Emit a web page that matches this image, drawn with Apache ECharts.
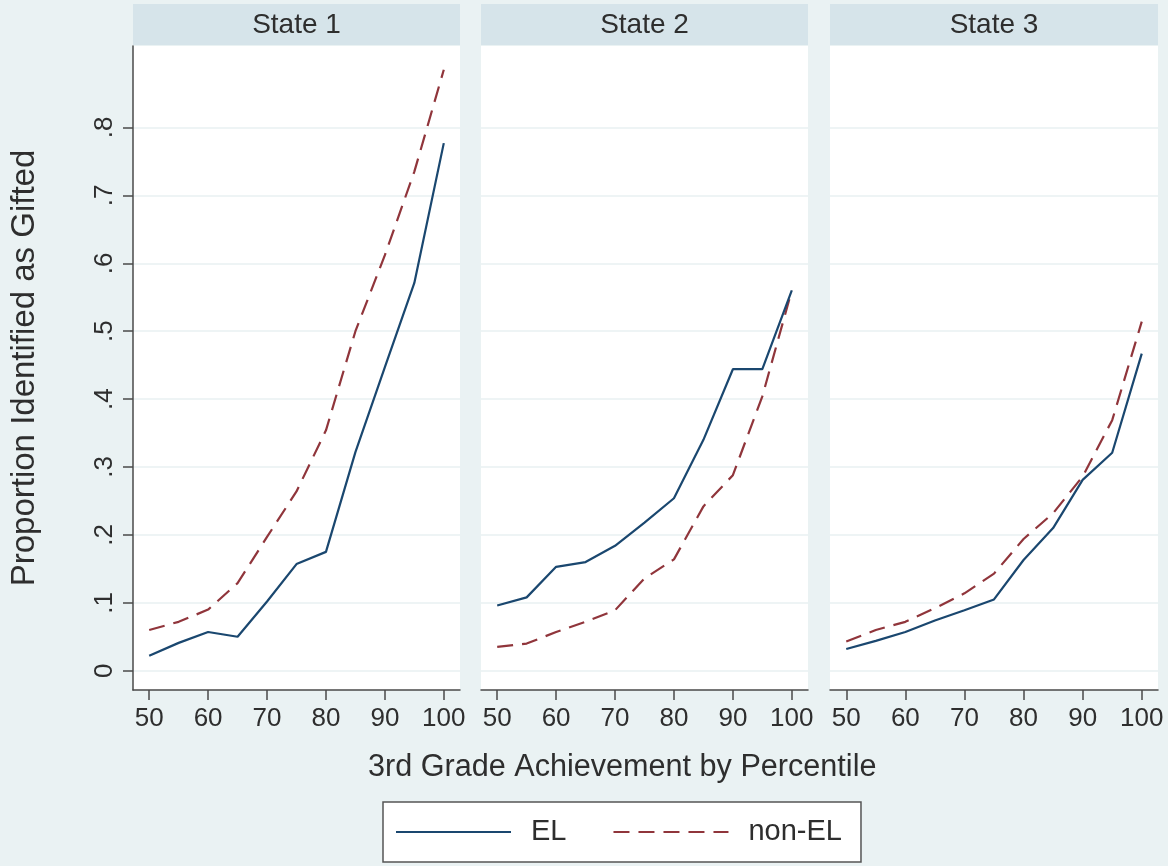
<!DOCTYPE html>
<html>
<head>
<meta charset="utf-8">
<script src="https://cdn.jsdelivr.net/npm/echarts@6/dist/echarts.min.js"></script>
<style>html,body{margin:0;padding:0;}#c{width:1168px;height:866px;}</style>
</head>
<body>
<div id="c"></div>
<script>
const percentiles = [50, 55, 60, 65, 70, 75, 80, 85, 90, 95, 100];
const state1EL    = [0.022, 0.041, 0.057, 0.050, 0.102, 0.157, 0.175, 0.322, 0.447, 0.571, 0.777];
const state1NonEL = [0.060, 0.072, 0.090, 0.129, 0.197, 0.264, 0.354, 0.500, 0.612, 0.735, 0.885];
const state2EL    = [0.096, 0.108, 0.153, 0.160, 0.184, 0.218, 0.254, 0.340, 0.444, 0.444, 0.560];
const state2NonEL = [0.035, 0.040, 0.057, 0.072, 0.089, 0.136, 0.164, 0.242, 0.288, 0.404, 0.560];
const state3EL    = [0.032, 0.044, 0.057, 0.074, 0.089, 0.105, 0.163, 0.210, 0.281, 0.321, 0.467];
const state3NonEL = [0.043, 0.060, 0.072, 0.092, 0.114, 0.143, 0.194, 0.232, 0.286, 0.369, 0.514];
const panelTitles = ['State 1', 'State 2', 'State 3'];
const xTicks = [50, 60, 70, 80, 90, 100];
const yTicks = [0, 0.1, 0.2, 0.3, 0.4, 0.5, 0.6, 0.7, 0.8];
const seriesNames = ['EL', 'non-EL'];

const FONT = '"Liberation Sans", Arial, Helvetica, sans-serif';
const TXT = '#2e2e2e';
const AX = '#4a4a4a';
const BLUE = '#1a476f';
const RED = '#90353b';
const BG = '#EAF2F3';
const HEAD = '#D6E4EA';

const panels = [
  { left: 133, width: 327, el: state1EL, non: state1NonEL },
  { left: 481, width: 327, el: state2EL, non: state2NonEL },
  { left: 830, width: 328, el: state3EL, non: state3NonEL }
];
const TOP = 46, BOTTOM = 690;

const pairs = (ys) => percentiles.map((p, i) => [p, ys[i]]);

const grids = [], xAxes = [], yAxes = [], series = [], graphics = [];
panels.forEach((p, i) => {
  grids.push({ left: p.left, top: TOP, width: p.width, height: BOTTOM - TOP, backgroundColor: '#ffffff', show: true, borderWidth: 0 });
  xAxes.push({
    type: 'value', gridIndex: i, min: 47.25, max: 102.75,
    axisLine: { show: true, onZero: false, lineStyle: { color: AX, width: 1.5 } },
    axisTick: { show: true, length: 10, customValues: xTicks, lineStyle: { color: AX, width: 1.5 } },
    axisLabel: { customValues: xTicks, margin: 16, fontSize: 26, fontFamily: FONT, color: TXT },
    splitLine: { show: false }
  });
  yAxes.push({
    type: 'value', gridIndex: i, min: -0.0284, max: 0.92,
    name: i === 0 ? 'Proportion Identified as Gifted' : '',
    nameLocation: 'middle', nameGap: 92,
    nameTextStyle: { fontSize: 33, fontFamily: FONT, color: TXT },
    axisLine: { show: i === 0, onZero: false, lineStyle: { color: AX, width: 1.5 } },
    axisTick: { show: i === 0, length: 10, customValues: yTicks, lineStyle: { color: AX, width: 1.5 } },
    axisLabel: {
      show: i === 0, customValues: yTicks, rotate: 90, margin: 15, fontSize: 26, fontFamily: FONT, color: TXT,
      formatter: (v) => Math.abs(v) < 1e-9 ? '0' : v.toFixed(1).replace(/^0\./, '.')
    },
    splitLine: { show: true, lineStyle: { color: '#E8F0F2', width: 1.5 } }
  });
  series.push({
    name: seriesNames[0], type: 'line', xAxisIndex: i, yAxisIndex: i, data: pairs(p.el),
    symbol: 'none', lineStyle: { color: BLUE, width: 2.2 }, itemStyle: { color: BLUE }, z: 3
  });
  series.push({
    name: seriesNames[1], type: 'line', xAxisIndex: i, yAxisIndex: i, data: pairs(p.non),
    symbol: 'none', lineStyle: { color: RED, width: 2.2, type: [16, 9] }, itemStyle: { color: RED }, z: 2
  });
  graphics.push({ type: 'rect', shape: { x: p.left, y: 4, width: p.width, height: 41 }, style: { fill: HEAD }, silent: true });
  graphics.push({
    type: 'text', x: p.left + p.width / 2, y: 25,
    style: { text: panelTitles[i], font: '28px ' + FONT, fill: TXT, align: 'center', verticalAlign: 'middle' }, silent: true
  });
});

const chart = echarts.init(document.getElementById('c'), null, { renderer: 'canvas' });
chart.setOption({
  backgroundColor: BG,
  animation: false,
  title: {
    text: '3rd Grade Achievement by Percentile',
    left: 368, top: 752, padding: 0,
    textStyle: { fontSize: 30.6, fontWeight: 'normal', fontFamily: FONT, color: TXT }
  },
  legend: {
    data: seriesNames,
    left: 383, top: 802,
    padding: [15, 19, 15, 12],
    itemGap: 46, itemWidth: 115, itemHeight: 14,
    itemStyle: { opacity: 0, borderWidth: 0 },
    backgroundColor: '#ffffff', borderColor: '#555555', borderWidth: 1.5, borderRadius: 0,
    textStyle: { fontSize: 29, fontFamily: FONT, color: TXT, padding: [0, 0, 0, 15], lineHeight: 30 }
  },
  grid: grids,
  xAxis: xAxes,
  yAxis: yAxes,
  series: series,
  graphic: graphics
});
</script>
</body>
</html>
